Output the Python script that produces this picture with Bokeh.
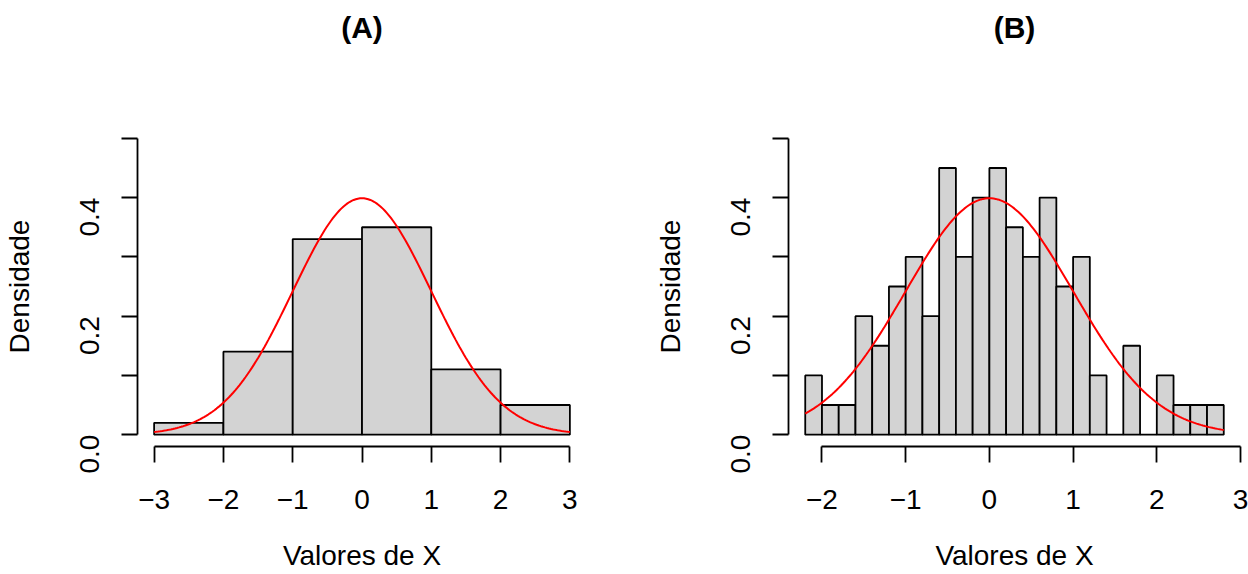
import numpy as np
from bokeh.plotting import figure
from bokeh.layouts import row
from bokeh.models import Range1d, FixedTicker, CustomJSTickFormatter, LinearAxis
from bokeh.embed import file_html
from bokeh.resources import INLINE

# ---- data ----
a_breaks = [-3, -2, -1, 0, 1, 2, 3]
a_density = [0.02, 0.14, 0.33, 0.35, 0.11, 0.05]

b_breaks = [-2.2, -2.0, -1.8, -1.6, -1.4, -1.2, -1.0, -0.8, -0.6, -0.4, -0.2,
            0.0, 0.2, 0.4, 0.6, 0.8, 1.0, 1.2, 1.4, 1.6, 1.8, 2.0, 2.2, 2.4,
            2.6, 2.8]
b_density = [0.10, 0.05, 0.05, 0.20, 0.15, 0.25, 0.30, 0.20, 0.45, 0.30,
             0.40, 0.45, 0.35, 0.30, 0.40, 0.25, 0.30, 0.10, 0.00, 0.15,
             0.00, 0.10, 0.05, 0.05, 0.05]

a_xticks = [-3, -2, -1, 0, 1, 2, 3]
b_xticks = [-2, -1, 0, 1, 2, 3]
y_major = [0.0, 0.2, 0.4]
y_minor = [0.1, 0.3, 0.5]

titles = ["(A)", "(B)"]
x_label = "Valores de X"
y_label = "Densidade"
norm_mean, norm_sd = 0.0, 1.0

FONT = "Liberation Sans"
FS = "28px"


def normal_pdf(x):
    return np.exp(-0.5 * ((x - norm_mean) / norm_sd) ** 2) / (norm_sd * np.sqrt(2 * np.pi))


def make_panel(breaks, dens, xticks, title, width, left, right):
    lo, hi = breaks[0], breaks[-1]
    span = hi - lo
    x0, x1 = lo - 0.04 * span, hi + 0.04 * span
    p = figure(width=width, height=574, output_backend="svg", toolbar_location=None,
               x_range=Range1d(x0, x1), y_range=Range1d(-0.02, 0.52),
               min_border_left=left, min_border_right=right,
               min_border_top=126, min_border_bottom=128)
    p.outline_line_color = None
    p.grid.visible = False
    p.background_fill_color = "white"
    p.border_fill_color = "white"

    xa = p.below[0]
    ya = p.left[0]

    # title drawn as the label of an empty axis above the frame
    tax = LinearAxis(ticker=FixedTicker(ticks=[]), axis_line_color=None,
                     major_tick_line_color=None, minor_tick_line_color=None,
                     axis_label=title, axis_label_text_font=FONT,
                     axis_label_text_font_size="30px",
                     axis_label_text_font_style="bold",
                     axis_label_text_color="black",
                     axis_label_standoff=83)
    p.add_layout(tax, "above")

    p.quad(left=breaks[:-1], right=breaks[1:], top=dens, bottom=0,
           fill_color="#D3D3D3", line_color="black", line_width=1.8)
    xs = np.linspace(lo, hi, 201)
    p.line(xs, normal_pdf(xs), line_color="#FF0000", line_width=2)

    for ax in (xa, ya):
        ax.axis_line_width = 1.8
        ax.major_tick_line_width = 1.8
        ax.minor_tick_line_width = 1.8
        ax.major_tick_in = 0
        ax.major_tick_out = 16
        ax.minor_tick_in = 0
        ax.major_label_text_font = FONT
        ax.major_label_text_font_size = FS
        ax.major_label_text_color = "black"
        ax.axis_label_text_font = FONT
        ax.axis_label_text_font_size = FS
        ax.axis_label_text_font_style = "normal"
        ax.axis_label_text_color = "black"

    xa.ticker = FixedTicker(ticks=xticks)
    xa.bounds = (xticks[0], xticks[-1])
    xa.minor_tick_out = 0
    xa.formatter = CustomJSTickFormatter(
        code="return (tick < 0 ? '\u2212' : '') + Math.abs(tick).toString();")
    xa.major_label_standoff = 27
    xa.axis_label = x_label
    xa.axis_label_standoff = 28

    ya.ticker = FixedTicker(ticks=y_major, minor_ticks=y_minor)
    ya.bounds = (0, 0.5)
    ya.minor_tick_out = 16
    ya.formatter = CustomJSTickFormatter(code="return tick.toFixed(1);")
    ya.major_label_orientation = np.pi / 2
    ya.major_label_standoff = 32
    ya.axis_label = y_label
    ya.axis_label_standoff = 33
    return p


pa = make_panel(a_breaks, a_density, a_xticks, titles[0], 624, 136, 38)
pb = make_panel(b_breaks, b_density, b_xticks, titles[1], 624, 164, 8)

layout = row(pa, pb)
open("out.html", "w").write(file_html(layout, INLINE))
